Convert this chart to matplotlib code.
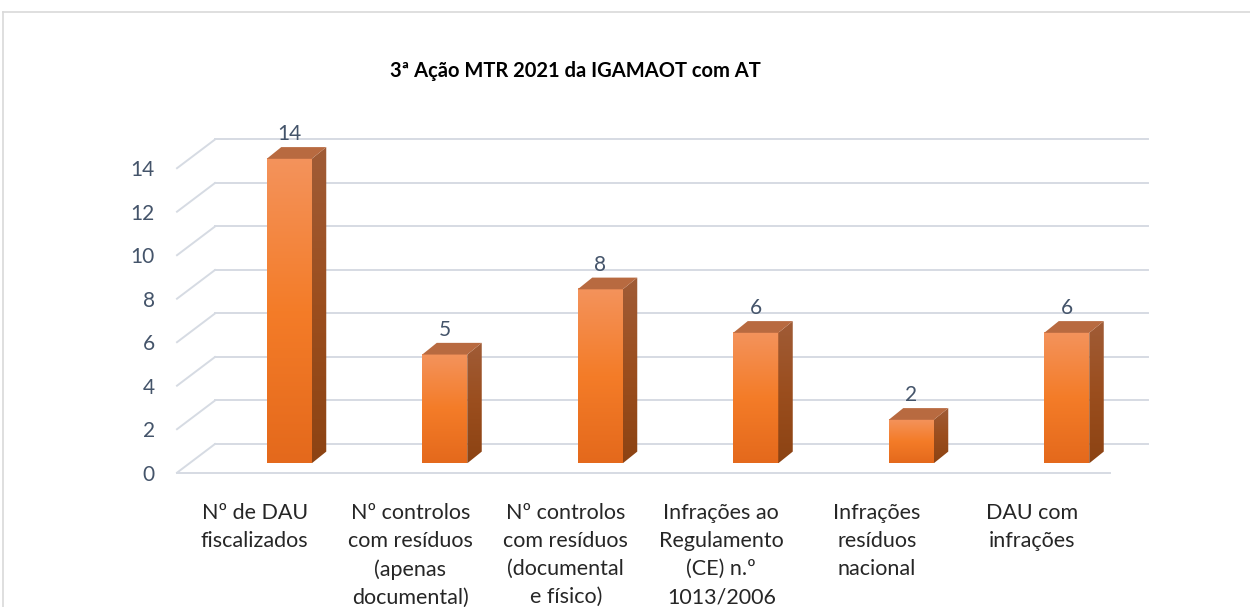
import numpy as np
import matplotlib
matplotlib.use("Agg")
import matplotlib.pyplot as plt
from matplotlib.patches import Polygon
from matplotlib.lines import Line2D
from matplotlib.colors import LinearSegmentedColormap

plt.rcParams['font.family'] = ['Lato', 'DejaVu Sans']

title = "3ª Ação MTR 2021 da IGAMAOT com AT"
categories = [
    "Nº de DAU\nfiscalizados",
    "Nº controlos\ncom resíduos\n(apenas\ndocumental)",
    "Nº controlos\ncom resíduos\n(documental\ne físico)",
    "Infrações ao\nRegulamento\n(CE) n.º\n1013/2006",
    "Infrações\nresíduos\nnacional",
    "DAU com\ninfrações",
]
values = [14, 5, 8, 6, 2, 6]
yticks = [0, 2, 4, 6, 8, 10, 12, 14]

W, H = 1250, 607
fig = plt.figure(figsize=(W / 100, H / 100), dpi=100)

# plot area: front floor edge is value 0, categories -0.5..5.5
px_unit = 21.75
ax = fig.add_axes([177 / W, (H - 472.7) / H, 933 / W, 16 * px_unit / H])
for s in ax.spines.values():
    s.set_visible(False)

grid_c = "#D6DBE3"
# depth of the floor (oblique projection) in data units
ddx, ddy = 38 / 155.5, 1.32

# back wall gridlines and left wall diagonals
for v in yticks:
    ax.add_line(Line2D([-0.5 + ddx, 5.5 + ddx], [v + ddy, v + ddy], color=grid_c,
                       lw=1.4, clip_on=False, zorder=1))
    ax.add_line(Line2D([-0.5, -0.5 + ddx], [v, v + ddy], color=grid_c,
                       lw=1.4, clip_on=False, zorder=1))
# floor front edge
ax.add_line(Line2D([-0.5, 5.5], [0, 0], color=grid_c, lw=1.4, clip_on=False, zorder=1))

# bars
face_cmap = LinearSegmentedColormap.from_list(
    "face", ["#E4691C", "#F47C28", "#F3935C"])
side_cmap = LinearSegmentedColormap.from_list(
    "side", ["#8C4313", "#9B4E1E", "#A05C37"])
top_c = "#B86A40"

off = 12 / 155.5      # front face offset from category centre
bw = 45 / 155.5       # bar width
base = 0.432          # bar base (front) height above floor edge
bdx, bdy = 14.5 / 155.5, 11.7 / px_unit  # bar depth

grad = np.linspace(0, 1, 256).reshape(-1, 1)
for i, v in enumerate(values):
    x0 = i + off
    x1 = x0 + bw
    y0 = base
    y1 = base + v
    # front face
    ax.imshow(grad, cmap=face_cmap, origin="lower", aspect="auto",
              extent=(x0, x1, y0, y1), zorder=3, interpolation="bilinear")
    # side face
    side = Polygon([(x1, y0), (x1 + bdx, y0 + bdy), (x1 + bdx, y1 + bdy), (x1, y1)],
                   closed=True, facecolor="none", edgecolor="none", zorder=3)
    ax.add_patch(side)
    im2 = ax.imshow(grad, cmap=side_cmap, origin="lower", aspect="auto",
                    extent=(x1, x1 + bdx, y0, y1 + bdy), zorder=3,
                    interpolation="bilinear")
    im2.set_clip_path(side)
    # top face
    ax.add_patch(Polygon([(x0, y1), (x1, y1), (x1 + bdx, y1 + bdy), (x0 + bdx, y1 + bdy)],
                         closed=True, facecolor=top_c, edgecolor="none", zorder=3))
    # value label
    ax.text(x0 + bw / 2, y1 + bdy + 0.6, str(v), ha="center", va="center",
            fontsize=15, color="#44546A", zorder=4)

ax.set_xlim(-0.5, 5.5)
ax.set_ylim(0, 16)

ax.set_yticks(yticks)
ax.set_yticklabels([str(t) for t in yticks])
ax.set_xticks(range(len(categories)))
ax.set_xticklabels(categories, linespacing=1.5)
ax.tick_params(axis="y", length=0, pad=16, labelsize=15, labelcolor="#44546A")
ax.tick_params(axis="x", length=0, pad=22, labelsize=15.5, labelcolor="#262626")

fig.text(575 / W, 1 - 71 / H, title, ha="center", va="center",
         fontsize=14.5, fontweight="bold", color="#000000")

# chart area border
frame_c = "#D9D9D9"
fig.add_artist(Line2D([3 / W, 3 / W], [0, 1 - 12 / H], color=frame_c, lw=1.2))
fig.add_artist(Line2D([3 / W, 1], [1 - 12 / H, 1 - 12 / H], color=frame_c, lw=1.2))

fig.savefig("out.png", dpi=100, facecolor="white")
